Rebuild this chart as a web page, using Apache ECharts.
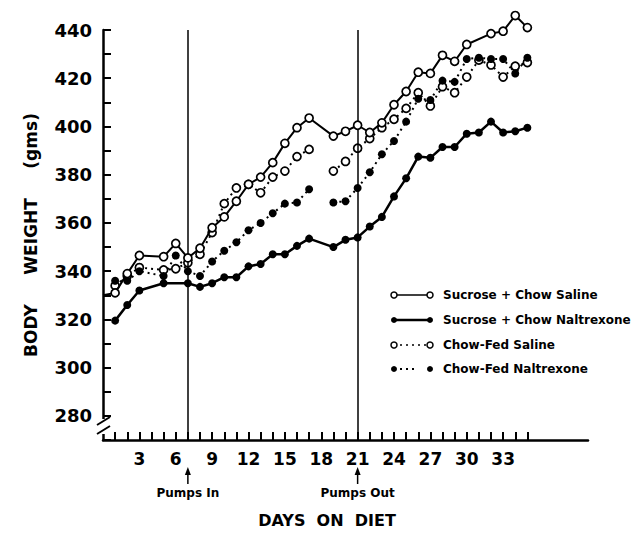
<!DOCTYPE html>
<html><head><meta charset="utf-8">
<script src="https://cdn.jsdelivr.net/npm/echarts@6/dist/echarts.min.js"></script>
<style>html,body{margin:0;padding:0;background:#fff}#c{width:641px;height:533px}</style>
</head><body><div id="c"></div>
<script>
// ---- data ----
const seriesNames = ['Sucrose + Chow Saline','Sucrose + Chow Naltrexone','Chow-Fed Saline','Chow-Fed Naltrexone'];

const sucSalDays = [0,1,2,3,5,6,7,8,9,10,11,12,13,14,15,16,17,19,20,21,22,23,24,25,26,27,28,29,30,32,33,34,35];
const sucSalVals = [330,331,339,346.5,346,351.5,345.5,349.5,358,362.5,369,376,379,385,393,399.5,403.5,396,398,400.5,397.5,401.5,409,414.5,422.5,422,429.5,427,434,438.5,439.5,446,441];

const sucNalDays = [1,2,3,5,7,8,9,10,11,12,13,14,15,16,17,19,20,21,22,23,24,25,26,27,28,29,30,31,32,33,34,35];
const sucNalVals = [319.5,326,332,335,335,333.5,335,337.5,337.5,342,343,347,347,350.5,353.5,350,353,354,358.5,362.5,371,378.5,387.5,387,391.5,391.5,397,397.5,402,397.5,398,399.5];

const chSalDays = [1,2,3,5,6,7,8,9,10,11,12,13,14,15,16,17,18,19,20,21,22,23,24,25,26,27,28,29,30,31,32,33,34,35];
const chSalVals = [334,338,341.5,340.5,341,343.5,347,356,368,374.5,376,372.5,379,381.5,387.5,390.5,null,381.5,385.5,391,395,399.5,403,407.5,414,408.5,416.5,414,420.5,427.5,425.5,420.5,425,426.5];

const chNalDays = [1,2,3,5,6,7,8,9,10,11,12,13,14,15,16,17,18,19,20,21,22,23,24,25,26,27,28,29,30,31,32,33,34,35];
const chNalVals = [336,336,340,338,346.5,340,338,344,348.5,352,357,360,364,368,368.5,374,null,368.5,369,374.5,381,388.5,394,402,411.5,411,419,418.5,428,428.5,428,428,422,428.5];

const pumpDays = [7, 21];
const pumpLabels = ['Pumps In', 'Pumps Out'];
const xLabelDays = [3,6,9,12,15,18,21,24,27,30,33];
const yLabelVals = [280,300,320,340,360,380,400,420,440];

// ---- build ----
function pairs(days, vals){
  return days.map((d,i)=>{
    const v = vals[i];
    if (v === null) return [d,'-'];
    if (d === 0) return {value:[d,v], symbol:'none'};
    return [d,v];
  });
}
const xTickDays = [];
for (let d = 1; d <= 35; d++) xTickDays.push(d);

const FONT = 'DejaVu Sans';
const openItem = {color:'#fff', borderColor:'#000', borderWidth:1.7};
const fillItem = {color:'#000', borderColor:'#000', borderWidth:0};

const chart = echarts.init(document.getElementById('c'), null, {renderer:'svg'});

const legendRows = [295, 320, 345, 369];
const graphics = [];
// axis break on the y axis
graphics.push({type:'rect', shape:{x:97,y:419,width:12,height:15}, style:{fill:'#fff'}, z:100});
graphics.push({type:'line', shape:{x1:97,y1:425,x2:110,y2:417}, style:{stroke:'#000',lineWidth:2}, z:101});
graphics.push({type:'line', shape:{x1:97,y1:434,x2:110,y2:426}, style:{stroke:'#000',lineWidth:2}, z:101});
// pump annotations
pumpDays.forEach((d,i)=>{
  const px = 103 + d*12.125;
  graphics.push({type:'line', shape:{x1:px,y1:484,x2:px,y2:472}, style:{stroke:'#000',lineWidth:1.5}, z:50});
  graphics.push({type:'polygon', shape:{points:[[px-3,475],[px,467],[px+3,475]]}, style:{fill:'#000'}, z:50});
  graphics.push({type:'text', x:px, y:493, style:{text:pumpLabels[i], font:'bold 12px "DejaVu Sans"', fill:'#000', align:'center', verticalAlign:'middle'}, z:50});
});
// legend
legendRows.forEach((y,i)=>{
  const open = (i===0 || i===2);
  const dotted = (i>=2);
  const x1 = 394, x2 = 430;
  if (i===3){
    graphics.push({type:'line', shape:{x1:x1,y1:y,x2:416,y2:y}, style:{stroke:'#000',lineWidth:2,lineDash:[2,4]}, z:60});
  } else {
    graphics.push({type:'line', shape:{x1:x1,y1:y,x2:x2,y2:y}, style:{stroke:'#000',lineWidth: i===1?2.5:1.7, lineDash: dotted?[2,4]:null}, z:60});
  }
  [x1,x2].forEach(cx=>{
    graphics.push({type:'circle', shape:{cx:cx,cy:y,r:3}, style: open?{fill:'#fff',stroke:'#000',lineWidth:1.5}:{fill:'#000'}, z:61});
  });
  graphics.push({type:'text', x:443, y:y, style:{text:seriesNames[i], font:'bold 12px "DejaVu Sans"', fill:'#000', align:'left', verticalAlign:'middle'}, z:60});
});

const option = {
  animation:false,
  backgroundColor:'#fff',
  grid:{left:103, top:30, right:53, bottom:91, containLabel:false},
  xAxis:{
    type:'value', min:0, max:40,
    name:'DAYS  ON  DIET', nameLocation:'middle', nameGap:72,
    nameTextStyle:{fontFamily:FONT, fontWeight:'bold', fontSize:16, color:'#000', padding:[0,37,0,0]},
    axisLine:{show:true, onZero:false, lineStyle:{color:'#000', width:2.5}},
    axisTick:{show:true, inside:true, length:8, customValues:xTickDays, lineStyle:{color:'#000', width:2}},
    axisLabel:{show:true, customValues:xLabelDays, margin:10, fontFamily:FONT, fontWeight:'bold', fontSize:17, color:'#000'},
    splitLine:{show:false}
  },
  yAxis:{
    type:'value', min:270, max:440, interval:10,
    name:'BODY     WEIGHT     (gms)', nameLocation:'middle', nameGap:64, nameRotate:90,
    nameTextStyle:{fontFamily:FONT, fontWeight:'bold', fontSize:17, color:'#000', padding:[0,0,0,0]},
    axisLine:{show:true, onZero:false, lineStyle:{color:'#000', width:2.5}},
    axisTick:{show:true, inside:true, length:8, lineStyle:{color:'#000', width:2}},
    axisLabel:{show:true, customValues:yLabelVals, margin:11, fontFamily:FONT, fontWeight:'bold', fontSize:18, color:'#000'},
    splitLine:{show:false}
  },
  series:[
    {name:seriesNames[2], type:'line', data:pairs(chSalDays, chSalVals), clip:false, connectNulls:false,
     symbol:'circle', symbolSize:8, itemStyle:openItem, lineStyle:{color:'#000', width:2, type:[2,4]}, z:3},
    {name:seriesNames[3], type:'line', data:pairs(chNalDays, chNalVals), clip:false, connectNulls:false,
     symbol:'circle', symbolSize:8, itemStyle:fillItem, lineStyle:{color:'#000', width:2, type:[2,4]}, z:3},
    {name:seriesNames[1], type:'line', data:pairs(sucNalDays, sucNalVals), clip:false,
     symbol:'circle', symbolSize:8, itemStyle:fillItem, lineStyle:{color:'#000', width:2.5}, z:4,
     markLine:{silent:true, symbol:['none','none'], label:{show:false}, lineStyle:{color:'#000', width:1.5, type:'solid'},
       data: pumpDays.map(d=>({xAxis:d}))}},
    {name:seriesNames[0], type:'line', data:pairs(sucSalDays, sucSalVals), clip:false,
     symbol:'circle', symbolSize:8, itemStyle:openItem, lineStyle:{color:'#000', width:2}, z:5}
  ],
  graphic: graphics
};
chart.setOption(option);
</script></body></html>
